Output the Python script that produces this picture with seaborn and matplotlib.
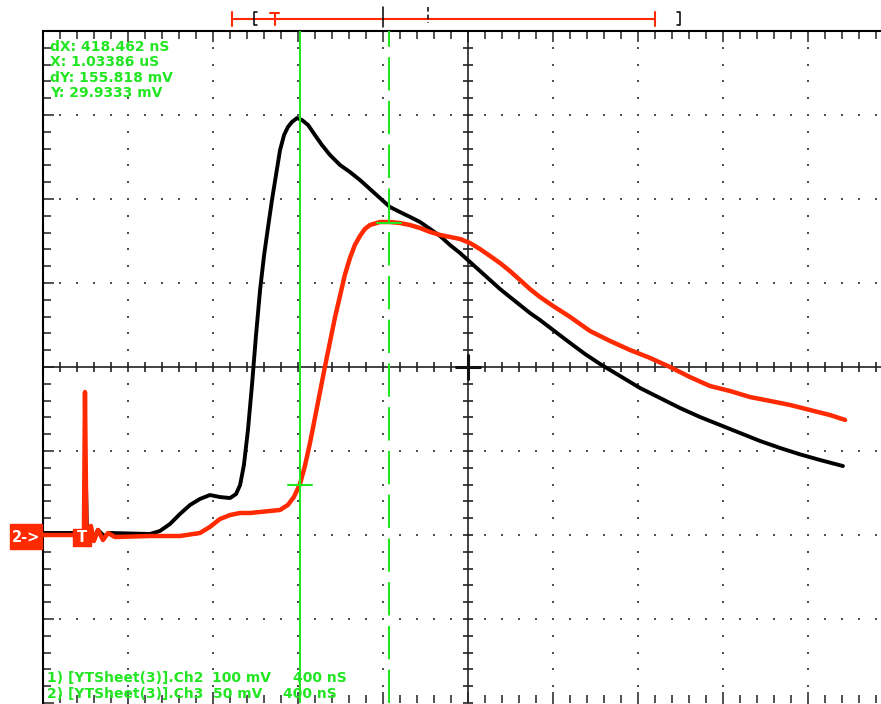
import numpy as np
import pandas as pd
import matplotlib
matplotlib.use("Agg")
import matplotlib.pyplot as plt
import seaborn as sns
from matplotlib.patches import Rectangle

# ---------------- data (time in ns from trigger, voltage in mV above channel reference) ----------
ch2_t = [-175, 17, 25, 32, 46, 64, 83, 112, 140, 328, 375, 422, 469, 516, 563, 610, 657, 705,
         733, 752, 770, 789, 808, 827, 846, 865, 883, 902, 921, 940, 959, 977, 996, 1020, 1043,
         1072, 1104, 1137, 1175, 1222, 1269, 1316, 1363, 1410, 1457, 1504, 1552, 1599, 1646,
         1693, 1740, 1787, 1834, 1881, 1928, 1975, 2022, 2069, 2116, 2163, 2225, 2305, 2375,
         2446, 2540, 2634, 2728, 2822, 2916, 3010, 3105, 3199, 3293, 3387, 3481, 3589]
ch2_mv = [2.4, 2.4, 81.0, -1.2, 8.3, -6.0, 6.0, -1.2, 2.4, 1.2, 4.8, 13.1, 25.0, 35.7, 42.9,
          47.6, 45.2, 44.0, 48.8, 59.5, 83.3, 125.0, 178.6, 238.1, 291.7, 333.3, 365.5, 398.8,
          428.6, 458.3, 476.2, 485.7, 491.7, 496.4, 494.0, 488.1, 476.2, 464.3, 452.4, 440.5,
          432.1, 422.6, 411.9, 401.2, 390.5, 384.5, 378.6, 372.6, 364.3, 356.0, 345.2, 335.7,
          325.0, 314.3, 303.6, 292.9, 283.3, 273.8, 264.3, 256.0, 244.0, 228.6, 215.5, 203.6,
          189.3, 175.0, 163.1, 151.2, 140.5, 131.0, 121.4, 111.9, 103.6, 96.0, 89.3, 82.1]
ch3_t = [-175, 17, 22, 29, 36, 50, 64, 83, 107, 130, 163, 328, 469, 563, 610, 657, 705, 752,
         799, 846, 893, 940, 977, 1005, 1034, 1057, 1081, 1104, 1128, 1151, 1175, 1198, 1222,
         1245, 1269, 1292, 1316, 1339, 1363, 1410, 1457, 1504, 1552, 1599, 1646, 1693, 1740,
         1787, 1834, 1881, 1928, 1975, 2022, 2069, 2116, 2163, 2225, 2305, 2399, 2493, 2587,
         2681, 2775, 2869, 2963, 3058, 3152, 3246, 3340, 3434, 3528, 3599]
ch3_mv = [0, 0, 85.1, 0, -6.0, 5.4, -3.6, 3.0, -3.0, 1.2, -1.2, -0.6, -0.6, 1.2, 4.8, 9.5,
          11.9, 13.1, 13.1, 13.7, 14.3, 14.9, 17.9, 22.6, 30.4, 41.1, 54.8, 69.6, 85.1, 100.0,
          114.9, 129.2, 142.3, 154.8, 164.9, 172.6, 178.0, 182.1, 184.5, 186.3, 186.3, 185.7,
          184.5, 182.7, 180.4, 178.6, 177.4, 176.2, 173.8, 170.2, 166.1, 161.9, 157.1, 151.8,
          146.4, 141.7, 136.3, 129.8, 121.4, 115.5, 110.1, 105.4, 100.0, 94.0, 88.7, 85.7,
          82.1, 79.8, 77.4, 74.4, 71.4, 68.5]

ch2_mv_per_div = 100
ch3_mv_per_div = 50
ns_per_div = 400
ref_div = -2          # both channel references sit 2 divisions below centre
screen_left_ns = -175.5

cursor_x_ns = [1033.86, 1452.322]
cursor_y_mv = [29.9333, 185.7513]
readout_lines = ["dX: 418.462 nS", "X: 1.03386 uS", "dY: 155.818 mV", "Y: 29.9333 mV"]
channel_lines = [("1) [YTSheet(3)].Ch2", "100 mV", "400 nS"),
                 ("2) [YTSheet(3)].Ch3", "50 mV", "400 nS")]

# ---------------- styling ----------------
sns.set_style("white")
plt.rcParams["font.family"] = ["DejaVu Sans"]
RED = "#ff2a00"
GREEN = "#22e622"
GRID = "#505050"

W, H = 881, 704
fig = plt.figure(figsize=(W / 100, H / 100), dpi=100)
fig.patch.set_facecolor("white")
ax = fig.add_axes([43 / W, 1 / H, 850 / W, 672 / H])
ax.set_facecolor("white")

x0 = screen_left_ns
x1 = screen_left_ns + 10 * ns_per_div
ax.set_xlim(x0, x1)
ax.set_ylim(-4, 4)

df2 = pd.DataFrame({"t": ch2_t, "div": np.array(ch2_mv) / ch2_mv_per_div + ref_div})
df3 = pd.DataFrame({"t": ch3_t, "div": np.array(ch3_mv) / ch3_mv_per_div + ref_div})

# ---------- graticule -------------
minor_x = np.arange(x0, x1 + 1, ns_per_div / 5)
minor_y = np.arange(-4, 4.001, 0.2)
xc = x0 + 5 * ns_per_div
for k in range(1, 10):
    if k == 5:
        continue
    xm = x0 + k * ns_per_div
    ax.plot(np.full_like(minor_y, xm), minor_y, ls="none", marker="s", ms=1.7,
            mew=0, color=GRID, zorder=1)
for j in range(-3, 4):
    if j == 0:
        continue
    ax.plot(minor_x, np.full_like(minor_x, j), ls="none", marker="s", ms=1.7,
            mew=0, color=GRID, zorder=1)

ax.axhline(0, color="#222222", lw=1.2, zorder=1)
ax.axvline(xc, color="#222222", lw=1.2, zorder=1)
ax.plot(minor_x, np.zeros_like(minor_x), ls="none", marker="|", ms=7, mew=1.2,
        color="#222222", zorder=1)
ax.plot(np.full_like(minor_y, xc), minor_y, ls="none", marker="_", ms=7, mew=1.2,
        color="#222222", zorder=1)
ax.plot([xc - 12 * ns_per_div / 85, xc + 12 * ns_per_div / 85], [0, 0], color="#111111",
        lw=2.2, zorder=1)
ax.plot([xc, xc], [-12 / 84, 12 / 84], color="#111111", lw=2.2, zorder=1)

# ---------- traces ----------
sns.lineplot(data=df2, x="t", y="div", ax=ax, color="black", lw=2.8, sort=False,
             estimator=None, legend=False, zorder=3)
sns.lineplot(data=df3, x="t", y="div", ax=ax, color=RED, lw=3.2, sort=False,
             estimator=None, legend=False, zorder=4)

# ---------- cursors ----------
ax.axvline(cursor_x_ns[0], color=GREEN, lw=1.5, zorder=5)
ax.axvline(cursor_x_ns[1], color=GREEN, lw=1.5, ls=(0, (16, 5)), zorder=5)
half = 12 * ns_per_div / 85
for cx, cy in zip(cursor_x_ns, cursor_y_mv):
    yd = cy / ch3_mv_per_div + ref_div
    ax.plot([cx - half, cx + half], [yd, yd], color=GREEN, lw=1.5, zorder=5)

# ---------- frame / ticks ----------
for s in ["right", "bottom"]:
    ax.spines[s].set_visible(False)
for s in ["left", "top"]:
    ax.spines[s].set_color("black")
    ax.spines[s].set_linewidth(1.5)
ax.set_xticks(np.arange(x0, x1 + 1, ns_per_div))
ax.set_xticks(minor_x, minor=True)
ax.set_yticks(np.arange(-4, 4.01, 1))
ax.set_yticks(minor_y, minor=True)
ax.tick_params(which="both", direction="in", top=True, bottom=True, left=True, right=False,
               labeltop=False, labelbottom=False, labelleft=False, color="#222222", width=1.1)
ax.tick_params(which="major", length=8)
ax.tick_params(which="minor", length=5.5)
ax.set_xlabel("")
ax.set_ylabel("")

# ---------- overlay in pixel coordinates ----------
ov = fig.add_axes([0, 0, 1, 1], facecolor="none")
ov.set_xlim(0, W)
ov.set_ylim(H, 0)
ov.axis("off")

for i, line in enumerate(readout_lines):
    ov.text(50, 51 + i * 15.4, line, color=GREEN, fontsize=10, fontweight="bold",
            va="baseline", ha="left")
col_x = [(47, 212, 293), (47, 213, 283)]
for i, parts in enumerate(channel_lines):
    for xx, p in zip(col_x[i], parts):
        ov.text(xx, 682 + i * 16, p, color=GREEN, fontsize=10, fontweight="bold",
                va="baseline", ha="left")

# reference marker and trigger marker
ov.add_patch(Rectangle((10, 524), 32, 25, color=RED, zorder=6))
ov.text(26, 537, "2->", color="white", fontsize=10.5, fontweight="bold", ha="center",
        va="center", zorder=7)
ov.add_patch(Rectangle((73, 529), 18, 17, color=RED, zorder=6))
ov.text(82, 538, "T", color="white", fontsize=10.5, fontweight="bold", ha="center",
        va="center", zorder=7)

# record overview bar
ov.plot([232, 655], [19, 19], color=RED, lw=1.5)
ov.plot([232, 232], [12, 26], color=RED, lw=1.5)
ov.plot([655, 655], [12, 26], color=RED, lw=1.5)
ov.plot([270, 279], [13, 13], color=RED, lw=1.5)
ov.plot([274.5, 274.5], [13, 25], color=RED, lw=1.5)
ov.plot([257, 254, 254, 257], [12, 12, 25, 25], color="black", lw=1.1)
ov.plot([677, 680, 680, 677], [12, 12, 25, 25], color="black", lw=1.1)
ov.plot([383, 383], [7, 27], color="black", lw=1.1)
ov.plot([428, 428], [7, 23], color="black", lw=1.1, ls=(0, (3, 2)))

fig.savefig("out.png", dpi=100, facecolor="white")
